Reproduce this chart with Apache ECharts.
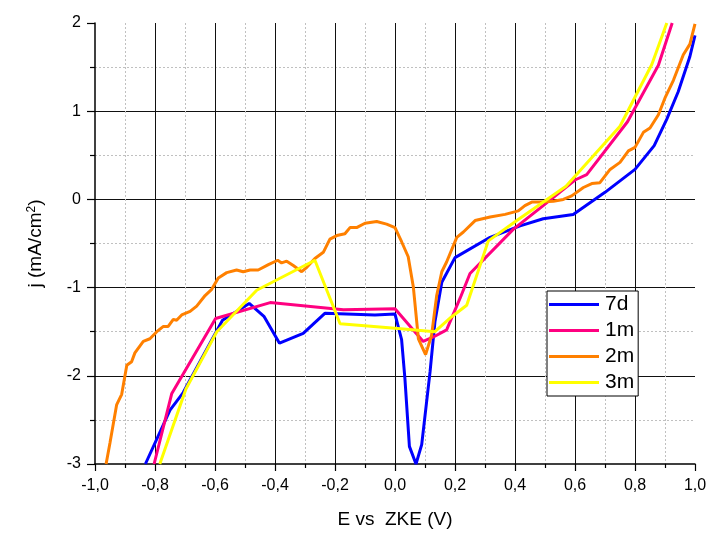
<!DOCTYPE html>
<html>
<head>
<meta charset="utf-8">
<script src="https://cdn.jsdelivr.net/npm/echarts@6/dist/echarts.min.js"></script>
<style>html,body{margin:0;padding:0;background:#fff}#c{width:710px;height:534px}</style>
</head>
<body>
<div id="c"></div>
<script>
const seriesNames = ['7d', '1m', '2m', '3m'];
const seriesColors = ['#0000FF', '#FF0080', '#FF8000', '#FFFF00'];

const data7d = [[-0.832,-3.0],[-0.75,-2.39],[-0.706,-2.19],[-0.575,-1.37],[-0.486,-1.18],[-0.436,-1.33],[-0.385,-1.63],[-0.306,-1.52],[-0.233,-1.29],[-0.067,-1.31],[0.0,-1.30],[0.022,-1.59],[0.033,-2.03],[0.048,-2.80],[0.07,-3.0],[0.089,-2.78],[0.117,-1.95],[0.133,-1.39],[0.156,-0.94],[0.2,-0.66],[0.317,-0.43],[0.417,-0.30],[0.494,-0.22],[0.594,-0.17],[0.70,0.08],[0.8,0.34],[0.864,0.61],[0.906,0.91],[0.944,1.22],[0.983,1.62],[1.0,1.86]];

const data1m = [[-0.803,-3.0],[-0.744,-2.20],[-0.598,-1.35],[-0.416,-1.17],[-0.172,-1.25],[0.0,-1.24],[0.061,-1.48],[0.094,-1.61],[0.128,-1.56],[0.172,-1.48],[0.217,-1.12],[0.25,-0.84],[0.394,-0.34],[0.494,-0.07],[0.60,0.22],[0.639,0.28],[0.775,0.88],[0.878,1.52],[0.924,2.0]];

const data2m = [[-0.963,-3.0],[-0.95,-2.76],[-0.928,-2.33],[-0.911,-2.21],[-0.894,-1.88],[-0.878,-1.84],[-0.867,-1.74],[-0.85,-1.66],[-0.839,-1.61],[-0.817,-1.58],[-0.794,-1.50],[-0.772,-1.44],[-0.756,-1.44],[-0.739,-1.36],[-0.728,-1.37],[-0.711,-1.31],[-0.683,-1.27],[-0.661,-1.21],[-0.633,-1.09],[-0.611,-1.02],[-0.589,-0.89],[-0.561,-0.83],[-0.528,-0.80],[-0.506,-0.82],[-0.483,-0.80],[-0.456,-0.80],[-0.422,-0.74],[-0.391,-0.69],[-0.378,-0.72],[-0.361,-0.70],[-0.339,-0.75],[-0.311,-0.82],[-0.294,-0.77],[-0.267,-0.67],[-0.239,-0.60],[-0.217,-0.45],[-0.194,-0.41],[-0.167,-0.39],[-0.15,-0.32],[-0.128,-0.32],[-0.10,-0.27],[-0.061,-0.25],[-0.028,-0.28],[0.0,-0.32],[0.022,-0.48],[0.044,-0.65],[0.061,-0.99],[0.078,-1.58],[0.102,-1.76],[0.122,-1.54],[0.139,-1.09],[0.156,-0.82],[0.172,-0.71],[0.206,-0.43],[0.228,-0.37],[0.267,-0.24],[0.317,-0.20],[0.367,-0.17],[0.411,-0.13],[0.433,-0.07],[0.456,-0.03],[0.483,-0.03],[0.528,-0.02],[0.561,0.0],[0.589,0.04],[0.628,0.135],[0.656,0.18],[0.683,0.19],[0.717,0.34],[0.75,0.42],[0.778,0.55],[0.8,0.59],[0.828,0.76],[0.85,0.81],[0.878,0.96],[0.9,1.15],[0.928,1.35],[0.961,1.64],[0.983,1.76],[1.0,1.99]];

const data3m = [[-0.784,-3.0],[-0.697,-2.15],[-0.594,-1.50],[-0.461,-1.03],[-0.267,-0.69],[-0.183,-1.41],[0.0,-1.46],[0.133,-1.50],[0.189,-1.33],[0.239,-1.20],[0.311,-0.47],[0.406,-0.24],[0.570,0.15],[0.75,0.83],[0.856,1.53],[0.906,2.0]];

const allData = [data7d, data1m, data2m, data3m];

const xMin = -1, xMax = 1, xStep = 0.2;
const yMin = -3, yMax = 2, yStep = 1;

const chart = echarts.init(document.getElementById('c'), null, {renderer: 'canvas'});
const font = 'Liberation Sans, Arial, sans-serif';

const option = {
  backgroundColor: '#fff',
  animation: false,
  grid: {left: 95, right: 15, top: 23, bottom: 68, containLabel: false},
  legend: {
    orient: 'vertical',
    left: 547, top: 291,
    padding: [3, 4, 3, 2],
    itemGap: 5,
    itemWidth: 50, itemHeight: 18,
    backgroundColor: '#fff',
    borderColor: '#000', borderWidth: 1,
    borderRadius: 0,
    textStyle: {fontFamily: font, fontSize: 21, color: '#000', padding: [0, 0, 0, 1]},
    data: seriesNames.map(n => ({name: n, icon: 'path://M0,0 L50,0 L50,3 L0,3 Z'}))
  },
  xAxis: {
    type: 'value', min: xMin, max: xMax, interval: xStep,
    name: 'E vs  ZKE (V)', nameLocation: 'middle', nameGap: 46,
    nameTextStyle: {fontFamily: font, fontSize: 19, color: '#000'},
    axisLine: {show: true, onZero: false, lineStyle: {color: '#000', width: 1.5}},
    axisTick: {show: true, inside: false, length: 7, lineStyle: {color: '#000', width: 1.2}},
    minorTick: {show: true, splitNumber: 2, length: 4, lineStyle: {color: '#000', width: 1.2}},
    axisLabel: {fontFamily: font, fontSize: 16, color: '#000', margin: 14,
      formatter: v => v.toFixed(1).replace('.', ',')},
    splitLine: {show: true, showMinLine: false, showMaxLine: false, lineStyle: {color: '#111', width: 1}},
    minorSplitLine: {show: true, lineStyle: {color: '#c0c0c0', width: 1, type: [2, 2]}}
  },
  yAxis: {
    type: 'value', min: yMin, max: yMax, interval: yStep,
    name: '{a|j (mA/cm}{b|2}{a|)}', nameLocation: 'middle', nameGap: 50, nameRotate: 90,
    nameTextStyle: {
      rich: {
        a: {fontFamily: font, fontSize: 19, color: '#000'},
        b: {fontFamily: font, fontSize: 12, color: '#000', verticalAlign: 'top', padding: [0, 0, 6, 0]}
      }
    },
    axisLine: {show: true, onZero: false, lineStyle: {color: '#000', width: 1.5}},
    axisTick: {show: true, inside: false, length: 8, lineStyle: {color: '#000', width: 1.2}},
    minorTick: {show: true, splitNumber: 2, length: 5, lineStyle: {color: '#000', width: 1.2}},
    axisLabel: {fontFamily: font, fontSize: 16, color: '#000', margin: 14},
    splitLine: {show: true, showMinLine: false, showMaxLine: false, lineStyle: {color: '#111', width: 1}},
    minorSplitLine: {show: true, lineStyle: {color: '#c0c0c0', width: 1, type: [2, 2]}}
  },
  series: seriesNames.map((n, i) => ({
    name: n, type: 'line', data: allData[i],
    symbol: 'none', showSymbol: false, smooth: false, clip: true,
    color: seriesColors[i],
    lineStyle: {color: seriesColors[i], width: 3},
    itemStyle: {color: seriesColors[i]},
    z: 2 + i
  }))
};
chart.setOption(option);
</script>
</body>
</html>
